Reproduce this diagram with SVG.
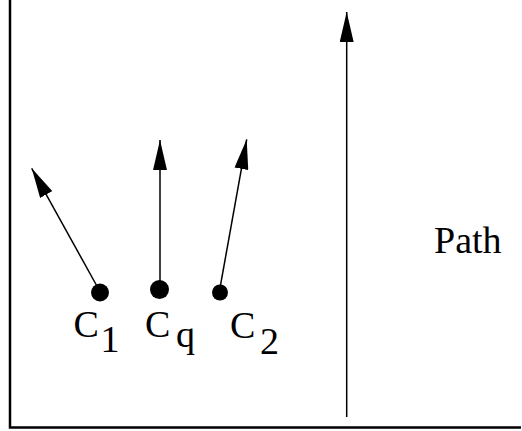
<svg xmlns="http://www.w3.org/2000/svg" width="522" height="431" viewBox="0 0 522 431">
<style>
.lbl{font-family:"Liberation Serif","Times New Roman",serif;font-size:38px;fill:#000}
.arr{stroke:#000;stroke-width:1.5;fill:none;marker-end:url(#ah)}
.dot{fill:#000}
</style>
<defs>
<marker id="ah" markerUnits="userSpaceOnUse" markerWidth="30" markerHeight="14" refX="28" refY="6.5" orient="auto" viewBox="0 0 28 13">
<path d="M0,0 L28,6.5 L0,13 Z" fill="#000"/>
</marker>
</defs>
<rect width="522" height="431" fill="#fff"/>
<g id="frame"><polyline points="10,0 10,427.5 521,427.5" fill="none" stroke="#000" stroke-width="2.5"/></g>
<g id="connectors">
<line class="arr" x1="98" y1="288" x2="31.7" y2="168.3"/>
<line class="arr" x1="160" y1="285" x2="160" y2="140"/>
<line class="arr" x1="220" y1="288" x2="246.7" y2="139.3"/>
<line class="arr" x1="346.7" y1="417" x2="346.7" y2="12"/>
</g>
<g id="c1"><circle class="dot" cx="100" cy="292.5" r="9"/><text class="lbl" x="73.5" y="337">C</text><text class="lbl" x="100.5" y="352">1</text></g>
<g id="cq"><circle class="dot" cx="159.5" cy="289.5" r="9.5"/><text class="lbl" x="145" y="337">C</text><text class="lbl" x="176" y="347">q</text></g>
<g id="c2"><circle class="dot" cx="220" cy="292.5" r="8"/><text class="lbl" x="230" y="338">C</text><text class="lbl" x="260" y="354">2</text></g>
<g id="path"><text class="lbl" x="434" y="252.5">Path</text></g>
</svg>
